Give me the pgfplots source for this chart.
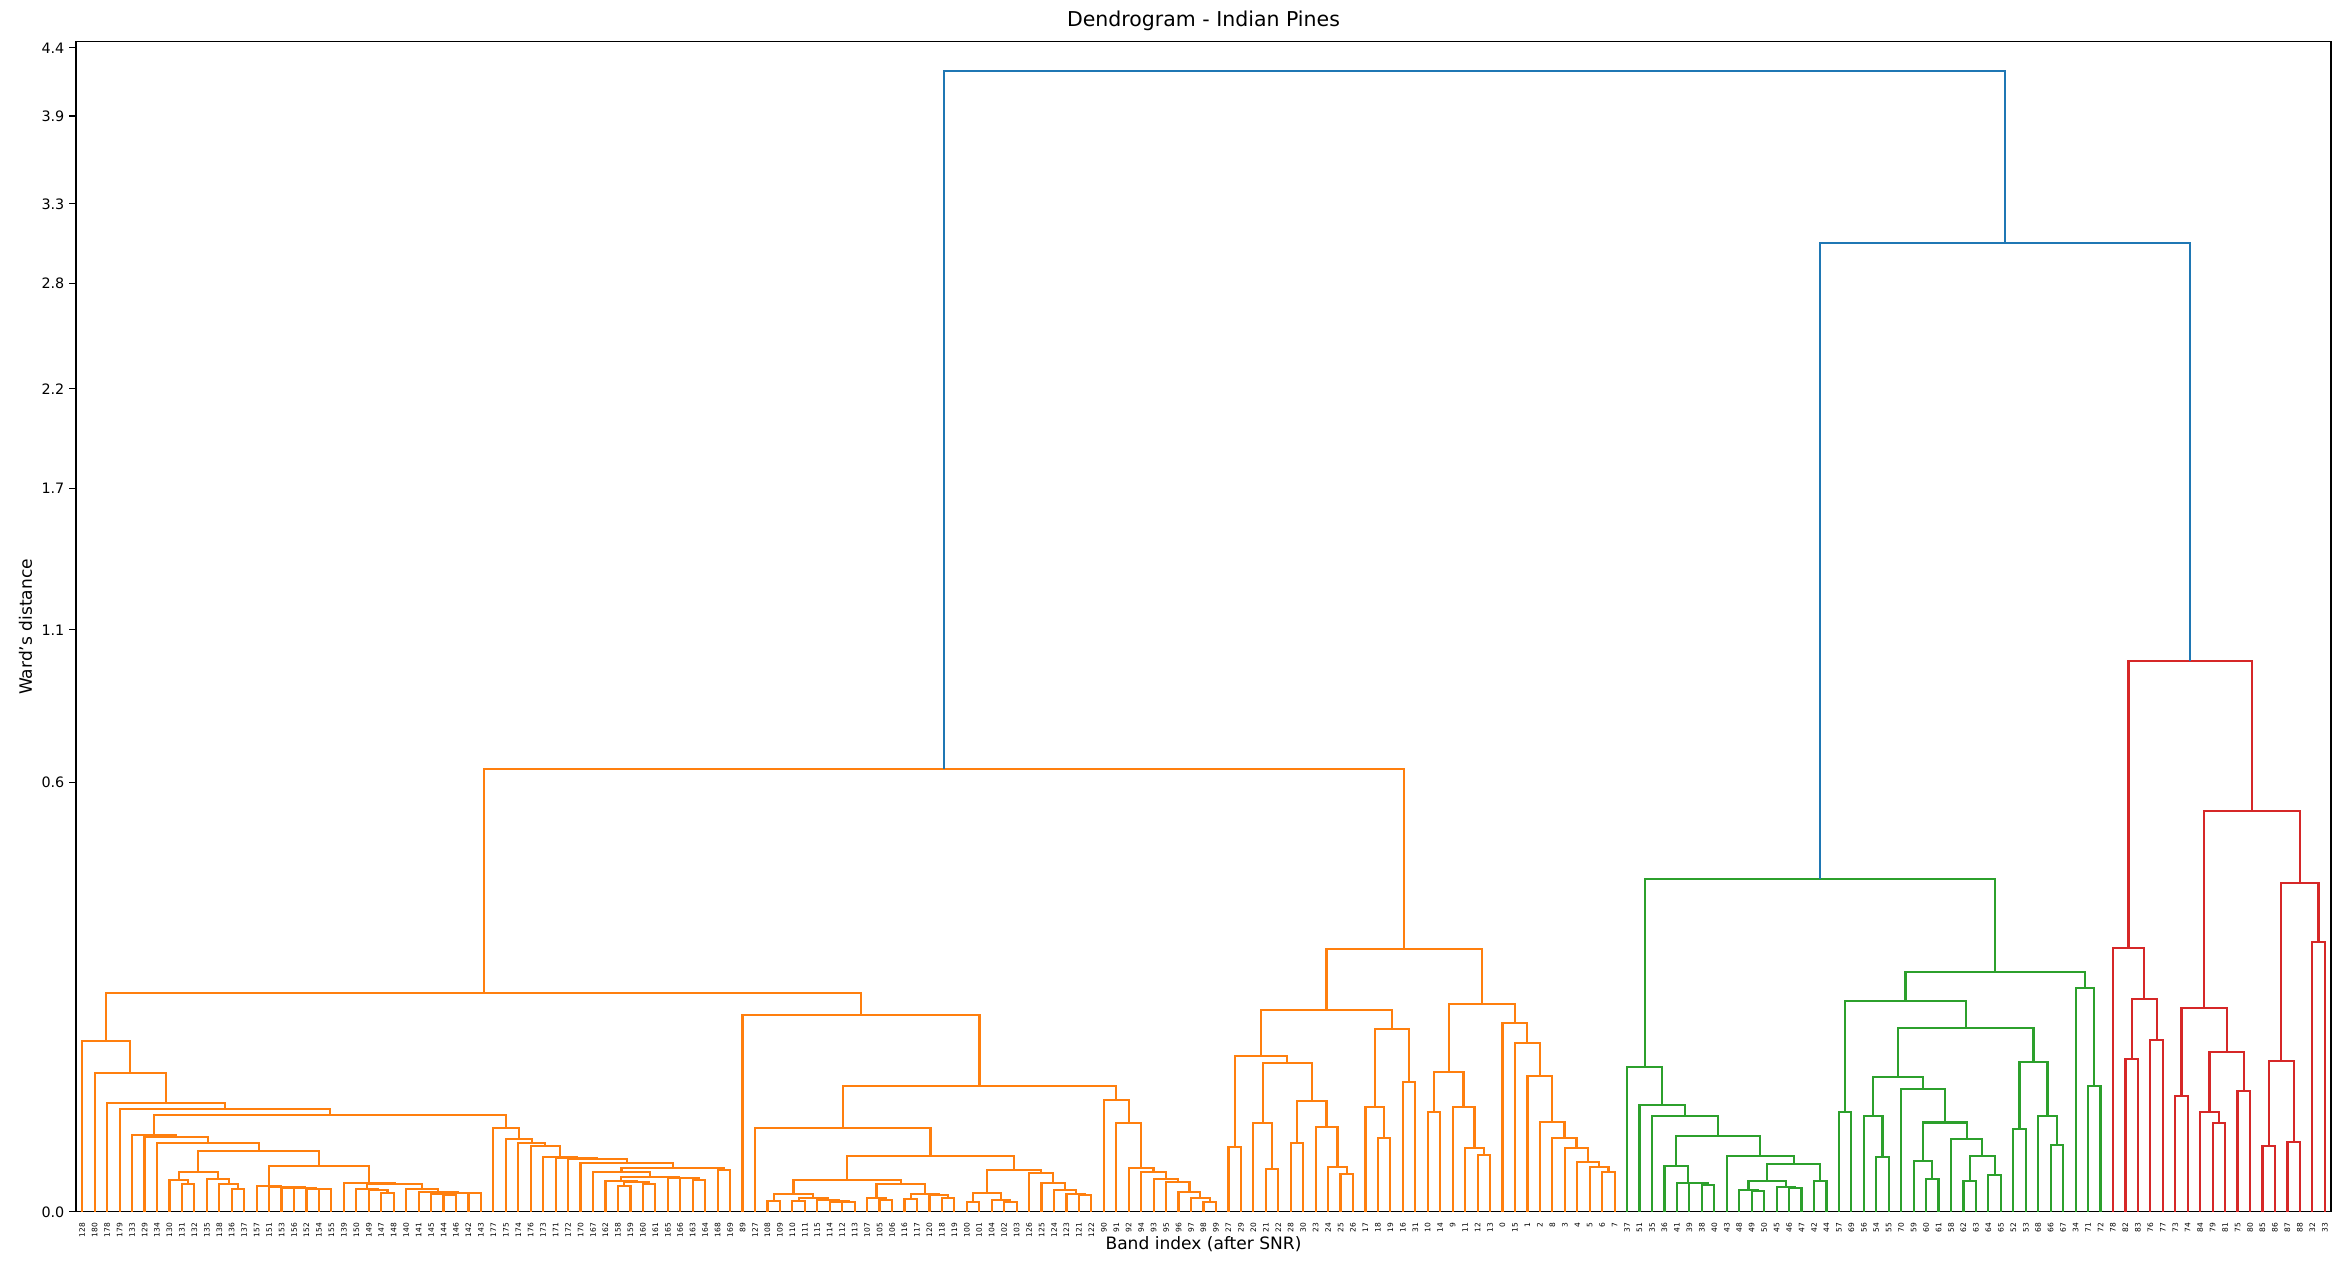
\documentclass[border=0pt]{standalone}
\usepackage{fontspec}
\setmainfont{DejaVu Sans}
\usepackage{pgfplots}
\pgfplotsset{compat=1.18}
\definecolor{C0}{HTML}{1F77B4}
\definecolor{C1}{HTML}{FF7F0E}
\definecolor{C2}{HTML}{2CA02C}
\definecolor{C3}{HTML}{D62728}
% one dendrogram link: colour, x left, y left child, merge height, x right, y right child
\newcommand{\lnk}[6]{\addplot[#1, no markers, line width=1.6pt] coordinates {(#2,#3) (#2,#4) (#5,#4) (#5,#6)};}
\begin{document}
\begin{tikzpicture}
\useasboundingbox (-55.46bp,-47.43bp) rectangle (1657.18bp,884.37bp);
\begin{axis}[
  at={(0,0)}, anchor=south west, scale only axis,
  width=1645.5bp, height=853.8bp,
  xmin=-0.5, xmax=180.5, ymin=0, ymax=4.4457,
  y coord trafo/.code={\pgfmathparse{sqrt(#1)}},
  y coord inv trafo/.code={\pgfmathparse{(#1)^2}},
  ytick={0,0.6,1.1,1.7,2.2,2.8,3.3,3.9,4.4},
  yticklabels={0.0,0.6,1.1,1.7,2.2,2.8,3.3,3.9,4.4},
  xtick={0,...,180},
  xticklabels={128,180,178,179,133,129,134,130,131,132,135,138,136,137,157,151,153,156,152,154,155,139,150,149,147,148,140,141,145,144,146,142,143,177,175,174,176,173,171,172,170,167,162,158,159,160,161,165,166,163,164,168,169,
  89,127,108,109,110,111,115,114,112,113,107,105,106,116,117,120,118,119,100,101,104,102,103,126,125,124,123,121,122,90,91,92,94,93,95,96,97,98,99,
  27,29,20,21,22,28,30,23,24,25,26,17,18,19,16,31,10,14,9,11,12,13,0,15,1,2,8,3,4,5,6,7,
  37,51,35,36,41,39,38,40,43,48,49,50,45,46,47,42,44,57,69,56,54,55,70,59,60,61,58,62,63,64,65,52,53,68,66,67,34,71,72,
  78,82,83,76,77,73,74,84,79,81,75,80,85,86,87,88,32,33},
  tick align=outside, major tick length=5bp,
  xtick pos=bottom, ytick pos=left,
  xtick style={draw=none},
  ytick style={black, line width=0.8pt},
  xticklabel style={rotate=90, anchor=east, inner sep=3pt, font=\fontsize{5.5}{6}\selectfont},
  yticklabel style={font=\fontsize{10.5}{12}\selectfont},
  /pgf/number format/assume math mode=true,
  axis line style={black, line width=0.8pt},
  title={Dendrogram - Indian Pines},
  title style={at={(0.5,1)}, anchor=base, yshift=5.5bp, font=\fontsize{15}{18}\selectfont},
  xlabel={Band index (after SNR)},
  xlabel style={at={(0.5,0)}, anchor=base, yshift=-27.7bp, font=\fontsize{12.5}{15}\selectfont},
  ylabel={Ward's distance},
  ylabel style={at={(-0.02243,0.5)}, anchor=center, font=\fontsize{12.5}{15}\selectfont},
]
% ---- orange: right sub-cluster (bands 0-31)
\lnk{C1}{92}{0}{0.01385}{93}{0}
\lnk{C1}{95}{0}{0.005921}{96}{0}
\lnk{C1}{94}{0}{0.02555}{95.5}{0.005921}
\lnk{C1}{97}{0}{0.01560}{98}{0}
\lnk{C1}{101}{0}{0.004616}{102}{0}
\lnk{C1}{100}{0}{0.006664}{101.5}{0.004616}
\lnk{C1}{99}{0}{0.02363}{100.75}{0.006664}
\lnk{C1}{97.5}{0.01560}{0.04023}{99.875}{0.02363}
\lnk{C1}{94.75}{0.02555}{0.07181}{98.6875}{0.04023}
\lnk{C1}{92.5}{0.01385}{0.07934}{96.71875}{0.07181}
\lnk{C1}{104}{0}{0.01764}{105}{0}
\lnk{C1}{103}{0}{0.03560}{104.5}{0.01764}
\lnk{C1}{106}{0}{0.05514}{107}{0}
\lnk{C1}{103.75}{0.03560}{0.1084}{106.5}{0.05514}
\lnk{C1}{94.609375}{0.07934}{0.1325}{105.125}{0.1084}
\lnk{C1}{108}{0}{0.03267}{109}{0}
\lnk{C1}{112}{0}{0.01044}{113}{0}
\lnk{C1}{111}{0}{0.01343}{112.5}{0.01044}
\lnk{C1}{110}{0}{0.03601}{111.75}{0.01343}
\lnk{C1}{108.5}{0.03267}{0.06338}{110.875}{0.03601}
\lnk{C1}{122}{0}{0.005274}{123}{0}
\lnk{C1}{121}{0}{0.006664}{122.5}{0.005274}
\lnk{C1}{120}{0}{0.008022}{121.75}{0.006664}
\lnk{C1}{119}{0}{0.01343}{120.875}{0.008022}
\lnk{C1}{118}{0}{0.01764}{119.9375}{0.01343}
\lnk{C1}{117}{0}{0.02613}{118.96875}{0.01764}
\lnk{C1}{116}{0}{0.06033}{117.984375}{0.02613}
\lnk{C1}{115}{0}{0.09243}{116.9921875}{0.06033}
\lnk{C1}{114}{0}{0.1156}{115.99609}{0.09243}
\lnk{C1}{109.6875}{0.06338}{0.1405}{114.99805}{0.1156}
\lnk{C1}{99.86719}{0.1325}{0.2241}{112.34277}{0.1405}
% ---- orange: left sub-cluster (bands 128-180)
\lnk{C1}{8}{0}{0.002492}{9}{0}
\lnk{C1}{7}{0}{0.003326}{8.5}{0.002492}
\lnk{C1}{12}{0}{0.001674}{13}{0}
\lnk{C1}{11}{0}{0.002492}{12.5}{0.001674}
\lnk{C1}{10}{0}{0.003473}{11.75}{0.002492}
\lnk{C1}{7.75}{0.003326}{0.005119}{10.875}{0.003473}
\lnk{C1}{19}{0}{0.001674}{20}{0}
\lnk{C1}{18}{0}{0.001763}{19.5}{0.001674}
\lnk{C1}{17}{0}{0.001824}{18.75}{0.001763}
\lnk{C1}{16}{0}{0.001949}{17.875}{0.001824}
\lnk{C1}{15}{0}{0.002079}{16.9375}{0.001949}
\lnk{C1}{14}{0}{0.002195}{15.96875}{0.002079}
\lnk{C1}{24}{0}{0.001136}{25}{0}
\lnk{C1}{23}{0}{0.001529}{24.5}{0.001136}
\lnk{C1}{22}{0}{0.001674}{23.75}{0.001529}
\lnk{C1}{31}{0}{0.001136}{32}{0}
\lnk{C1}{29}{0}{0.000939}{30}{0}
\lnk{C1}{28}{0}{0.001017}{29.5}{0.000939}
\lnk{C1}{28.75}{0.001017}{0.001210}{31.5}{0.001136}
\lnk{C1}{27}{0}{0.001299}{30.125}{0.001210}
\lnk{C1}{26}{0}{0.001674}{28.5625}{0.001299}
\lnk{C1}{22.875}{0.001674}{0.002492}{27.28125}{0.001674}
\lnk{C1}{21}{0}{0.002788}{25.078125}{0.002492}
\lnk{C1}{14.984375}{0.002195}{0.006872}{23.0390625}{0.002788}
\lnk{C1}{9.3125}{0.005119}{0.01208}{19.01172}{0.006872}
\lnk{C1}{6}{0}{0.01560}{14.16211}{0.01208}
\lnk{C1}{5}{0}{0.01841}{10.08105}{0.01560}
\lnk{C1}{4}{0}{0.01926}{7.54053}{0.01841}
\lnk{C1}{43}{0}{0.002246}{44}{0}
\lnk{C1}{45}{0}{0.002492}{46}{0}
\lnk{C1}{43.5}{0.002246}{0.002865}{45.5}{0.002492}
\lnk{C1}{42}{0}{0.003182}{44.5}{0.002865}
\lnk{C1}{49}{0}{0.003326}{50}{0}
\lnk{C1}{48}{0}{0.003688}{49.5}{0.003326}
\lnk{C1}{47}{0}{0.003821}{48.75}{0.003688}
\lnk{C1}{43.25}{0.003182}{0.004047}{47.875}{0.003821}
\lnk{C1}{41}{0}{0.005119}{45.5625}{0.004047}
\lnk{C1}{51}{0}{0.005729}{52}{0}
\lnk{C1}{43.28125}{0.005119}{0.006202}{51.5}{0.005729}
\lnk{C1}{40}{0}{0.007893}{47.390625}{0.006202}
\lnk{C1}{39}{0}{0.009019}{43.6953}{0.007893}
\lnk{C1}{38}{0}{0.009365}{41.34766}{0.009019}
\lnk{C1}{37}{0}{0.009931}{39.67383}{0.009365}
\lnk{C1}{36}{0}{0.01428}{38.33691}{0.009931}
\lnk{C1}{35}{0}{0.01533}{37.16846}{0.01428}
\lnk{C1}{34}{0}{0.01731}{36.08423}{0.01533}
\lnk{C1}{33}{0}{0.02275}{35.04211}{0.01731}
\lnk{C1}{5.77026}{0.01926}{0.03075}{34.02106}{0.02275}
\lnk{C1}{3}{0}{0.03466}{19.89566}{0.03075}
\lnk{C1}{2}{0}{0.03837}{11.44783}{0.03466}
\lnk{C1}{1}{0}{0.06248}{6.72392}{0.03837}
\lnk{C1}{0}{0}{0.09496}{3.86196}{0.06248}
% ---- orange: middle sub-cluster (bands 89-127)
\lnk{C1}{55}{0}{0.000415}{56}{0}
\lnk{C1}{57}{0}{0.000393}{58}{0}
\lnk{C1}{61}{0}{0.000325}{62}{0}
\lnk{C1}{60}{0}{0.000358}{61.5}{0.000325}
\lnk{C1}{59}{0}{0.000468}{60.75}{0.000358}
\lnk{C1}{57.5}{0.000393}{0.000637}{59.875}{0.000468}
\lnk{C1}{55.5}{0.000415}{0.001052}{58.6875}{0.000637}
\lnk{C1}{64}{0}{0.000468}{65}{0}
\lnk{C1}{63}{0}{0.000610}{64.5}{0.000468}
\lnk{C1}{66}{0}{0.000524}{67}{0}
\lnk{C1}{69}{0}{0.000664}{70}{0}
\lnk{C1}{68}{0}{0.000939}{69.5}{0.000664}
\lnk{C1}{66.5}{0.000524}{0.001052}{68.75}{0.000939}
\lnk{C1}{63.75}{0.000610}{0.002492}{67.625}{0.001052}
\lnk{C1}{57.09375}{0.001052}{0.003326}{65.6875}{0.002492}
\lnk{C1}{71}{0}{0.000345}{72}{0}
\lnk{C1}{74}{0}{0.000345}{75}{0}
\lnk{C1}{73}{0}{0.000468}{74.5}{0.000345}
\lnk{C1}{71.5}{0.000345}{0.001136}{73.75}{0.000468}
\lnk{C1}{80}{0}{0.000906}{81}{0}
\lnk{C1}{79}{0}{0.001052}{80.5}{0.000906}
\lnk{C1}{78}{0}{0.001572}{79.75}{0.001052}
\lnk{C1}{77}{0}{0.002675}{78.875}{0.001572}
\lnk{C1}{76}{0}{0.004864}{77.9375}{0.002675}
\lnk{C1}{72.625}{0.001136}{0.005729}{76.96875}{0.004864}
\lnk{C1}{61.390625}{0.003326}{0.01029}{74.796875}{0.005729}
\lnk{C1}{54}{0}{0.02275}{68.09375}{0.01029}
\lnk{C1}{90}{0}{0.000345}{91}{0}
\lnk{C1}{89}{0}{0.000664}{90.5}{0.000345}
\lnk{C1}{88}{0}{0.001260}{89.75}{0.000664}
\lnk{C1}{87}{0}{0.002982}{88.875}{0.001260}
\lnk{C1}{86}{0}{0.003537}{87.9375}{0.002982}
\lnk{C1}{85}{0}{0.005274}{86.96875}{0.003537}
\lnk{C1}{84}{0}{0.006202}{85.984375}{0.005274}
\lnk{C1}{83}{0}{0.02555}{84.9921875}{0.006202}
\lnk{C1}{82}{0}{0.04074}{83.99609}{0.02555}
\lnk{C1}{61.046875}{0.02275}{0.05181}{82.99805}{0.04074}
\lnk{C1}{53}{0}{0.1260}{72.02246}{0.05181}
\lnk{C1}{1.93098}{0.09496}{0.1553}{62.51123}{0.1260}
\lnk{C1}{32.22111}{0.1553}{0.6373}{106.10498}{0.2241}
% ---- green cluster (bands 34-72)
\lnk{C2}{130}{0}{0.002368}{131}{0}
\lnk{C2}{129}{0}{0.002675}{130.5}{0.002368}
\lnk{C2}{128}{0}{0.002788}{129.75}{0.002675}
\lnk{C2}{127}{0}{0.006872}{128.875}{0.002788}
\lnk{C2}{134}{0}{0.001473}{135}{0}
\lnk{C2}{133}{0}{0.001572}{134.5}{0.001473}
\lnk{C2}{137}{0}{0.001824}{138}{0}
\lnk{C2}{136}{0}{0.001981}{137.5}{0.001824}
\lnk{C2}{133.75}{0.001572}{0.003121}{136.75}{0.001981}
\lnk{C2}{139}{0}{0.003182}{140}{0}
\lnk{C2}{135.25}{0.003121}{0.007483}{139.5}{0.003182}
\lnk{C2}{132}{0}{0.01018}{137.375}{0.007483}
\lnk{C2}{127.9375}{0.006872}{0.01876}{134.6875}{0.01018}
\lnk{C2}{126}{0}{0.02993}{131.3125}{0.01876}
\lnk{C2}{125}{0}{0.03718}{128.65625}{0.02993}
\lnk{C2}{124}{0}{0.06856}{126.828125}{0.03718}
\lnk{C2}{141}{0}{0.03267}{142}{0}
\lnk{C2}{144}{0}{0.009717}{145}{0}
\lnk{C2}{143}{0}{0.02993}{144.5}{0.009717}
\lnk{C2}{148}{0}{0.003473}{149}{0}
\lnk{C2}{147}{0}{0.008447}{148.5}{0.003473}
\lnk{C2}{151}{0}{0.003121}{152}{0}
\lnk{C2}{153}{0}{0.004446}{154}{0}
\lnk{C2}{151.5}{0.003121}{0.01029}{153.5}{0.004446}
\lnk{C2}{150}{0}{0.01716}{152.5}{0.01029}
\lnk{C2}{147.75}{0.008447}{0.02601}{151.25}{0.01716}
\lnk{C2}{146}{0}{0.04937}{149.5}{0.02601}
\lnk{C2}{143.75}{0.02993}{0.05945}{147.75}{0.04937}
\lnk{C2}{155}{0}{0.02221}{156}{0}
\lnk{C2}{158}{0}{0.01458}{159}{0}
\lnk{C2}{157}{0}{0.02993}{158.5}{0.01458}
\lnk{C2}{155.5}{0.02221}{0.07336}{157.75}{0.02993}
\lnk{C2}{145.75}{0.05945}{0.1094}{156.625}{0.07336}
\lnk{C2}{141.5}{0.03267}{0.1446}{151.1875}{0.1094}
\lnk{C2}{161}{0}{0.05156}{162}{0}
\lnk{C2}{160}{0}{0.1625}{161.5}{0.05156}
\lnk{C2}{146.34375}{0.1446}{0.1871}{160.75}{0.1625}
\lnk{C2}{125.4140625}{0.06856}{0.3595}{153.546875}{0.1871}
% ---- red cluster (bands 32-33, 73-88)
\lnk{C3}{164}{0}{0.07572}{165}{0}
\lnk{C3}{166}{0}{0.09608}{167}{0}
\lnk{C3}{164.5}{0.07572}{0.1469}{166.5}{0.09608}
\lnk{C3}{163}{0}{0.2269}{165.5}{0.1469}
\lnk{C3}{168}{0}{0.04370}{169}{0}
\lnk{C3}{171}{0}{0.02590}{172}{0}
\lnk{C3}{170}{0}{0.03267}{171.5}{0.02590}
\lnk{C3}{173}{0}{0.04778}{174}{0}
\lnk{C3}{170.75}{0.03267}{0.08314}{173.5}{0.04778}
\lnk{C3}{168.5}{0.04370}{0.1348}{172.125}{0.08314}
\lnk{C3}{175}{0}{0.01415}{176}{0}
\lnk{C3}{177}{0}{0.01605}{178}{0}
\lnk{C3}{175.5}{0.01415}{0.07434}{177.5}{0.01605}
\lnk{C3}{179}{0}{0.2362}{180}{0}
\lnk{C3}{176.5}{0.07434}{0.3522}{179.5}{0.2362}
\lnk{C3}{170.3125}{0.1348}{0.5222}{178}{0.3522}
\lnk{C3}{164.25}{0.2269}{0.9860}{174.15625}{0.5222}
% ---- blue top links
\lnk{C0}{139.48047}{0.3595}{3.047}{169.20313}{0.9860}
\lnk{C0}{69.16304}{0.6373}{4.226}{154.3418}{3.047}
\end{axis}
\end{tikzpicture}
\end{document}
